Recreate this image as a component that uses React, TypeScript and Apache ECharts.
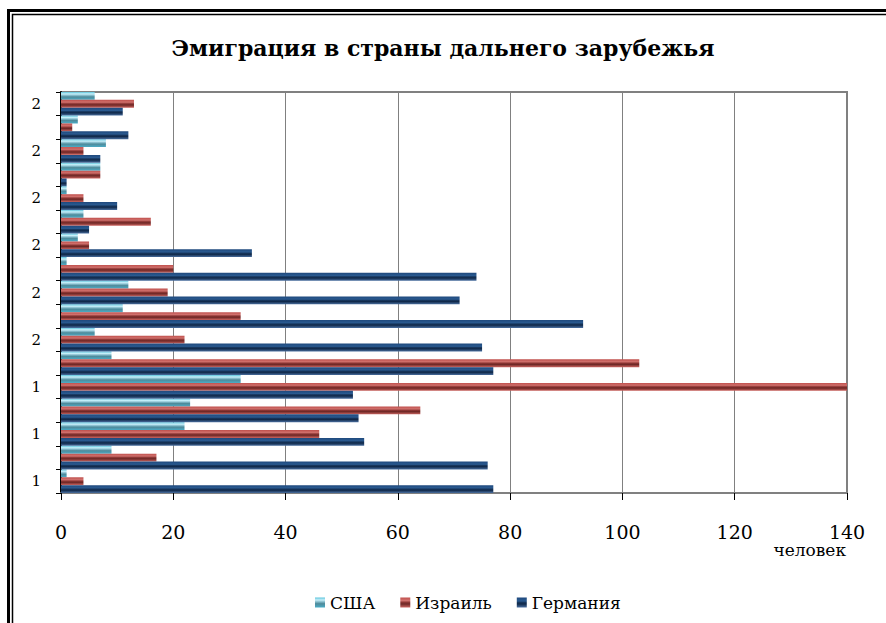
import React, { useEffect, useRef } from "react";
import * as echarts from "echarts";

const years = ["1995","1996","1997","1998","1999","2000","2001","2002","2003","2004","2005","2006","2007","2008","2009","2010","2011"];
const usa = [1, 9, 22, 23, 32, 9, 6, 11, 12, 1, 3, 4, 1, 7, 8, 3, 6];
const israel = [4, 17, 46, 64, 140, 103, 22, 32, 19, 20, 5, 16, 4, 7, 4, 2, 13];
const germany = [77, 76, 54, 53, 52, 77, 75, 93, 71, 74, 34, 5, 10, 1, 7, 12, 11];
const xTicks = { min: 0, max: 140, interval: 20 };

const FONT = "DejaVu Serif";

function grad(stops: [number, string][]) {
  return new echarts.graphic.LinearGradient(0, 0, 0, 1, stops.map(([offset, color]) => ({ offset, color })));
}

export default function App() {
  const ref = useRef<HTMLDivElement>(null);
  useEffect(() => {
    document.body.style.margin = "0";
    const chart = echarts.init(ref.current!, null, { renderer: "svg" });
    const usaColor = grad([[0, "#5cc4dc"], [0.25, "#c8f0fa"], [0.45, "#80b8c8"], [0.62, "#4e8a9a"], [1, "#4bacc6"]]);
    const isrColor = grad([[0, "#c0504d"], [0.3, "#d0706c"], [0.5, "#8a3432"], [0.65, "#6e2826"], [1, "#cc6460"]]);
    const gerColor = grad([[0, "#1f497d"], [0.35, "#2a5a90"], [0.5, "#17365d"], [0.65, "#10294a"], [1, "#4a6fa0"]]);
    chart.setOption({
      animation: false,
      backgroundColor: "#ffffff",
      textStyle: { fontFamily: FONT, color: "#000" },
      title: {
        text: "Эмиграция в страны дальнего зарубежья",
        left: "center",
        top: 32,
        textStyle: { fontFamily: FONT, fontSize: 22, fontWeight: "bold", color: "#000" },
      },
      legend: {
        data: ["США", "Израиль", "Германия"],
        left: 310,
        top: 589,
        icon: "rect",
        itemWidth: 10,
        itemHeight: 10,
        itemGap: 25,
        textStyle: { fontFamily: FONT, fontSize: 17, color: "#000" },
      },
      grid: {
        left: 61,
        right: 39,
        top: 92,
        bottom: 130,
        show: true,
        borderColor: "#808080",
        borderWidth: 2,
        backgroundColor: "transparent",
      },
      xAxis: {
        type: "value",
        min: xTicks.min,
        max: xTicks.max,
        interval: xTicks.interval,
        axisLine: { show: true, lineStyle: { color: "#808080", width: 2 } },
        axisTick: { show: true, length: 7, lineStyle: { color: "#000" } },
        splitLine: { show: true, lineStyle: { color: "#808080", width: 1 } },
        axisLabel: { fontFamily: FONT, fontSize: 19, color: "#000", margin: 29 },
      },
      yAxis: {
        type: "category",
        data: years,
        axisLine: { show: true, lineStyle: { color: "#000", width: 2 } },
        axisTick: { show: true, length: 5, interval: 0, lineStyle: { color: "#000" } },
        axisLabel: {
          interval: 1,
          fontFamily: FONT,
          fontSize: 15,
          color: "#000",
          margin: 20,
          formatter: (v: string) => v.charAt(0),
        },
        splitLine: { show: false },
      },
      series: [
        { name: "США", type: "bar", data: usa, barGap: "0%", barCategoryGap: "0%", itemStyle: { color: usaColor } },
        { name: "Израиль", type: "bar", data: israel, barGap: "0%", barCategoryGap: "0%", itemStyle: { color: isrColor } },
        { name: "Германия", type: "bar", data: germany, barGap: "0%", barCategoryGap: "0%", itemStyle: { color: gerColor } },
      ],
      graphic: [
        { type: "text", right: 40, top: 541, style: { text: "человек", fontFamily: FONT, fontSize: 17, fill: "#000" } },
        { type: "polyline", shape: { points: [[8.5, 623], [8.5, 10.5], [886, 10.5]] }, style: { stroke: "#000", lineWidth: 3, fill: "none" } },
        { type: "polyline", shape: { points: [[12.5, 623], [12.5, 14.5], [886, 14.5]] }, style: { stroke: "#000", lineWidth: 1.5, fill: "none" } },
      ],
    });
    return () => chart.dispose();
  }, []);
  return <div ref={ref} style={{ width: 886, height: 623 }} />;
}
